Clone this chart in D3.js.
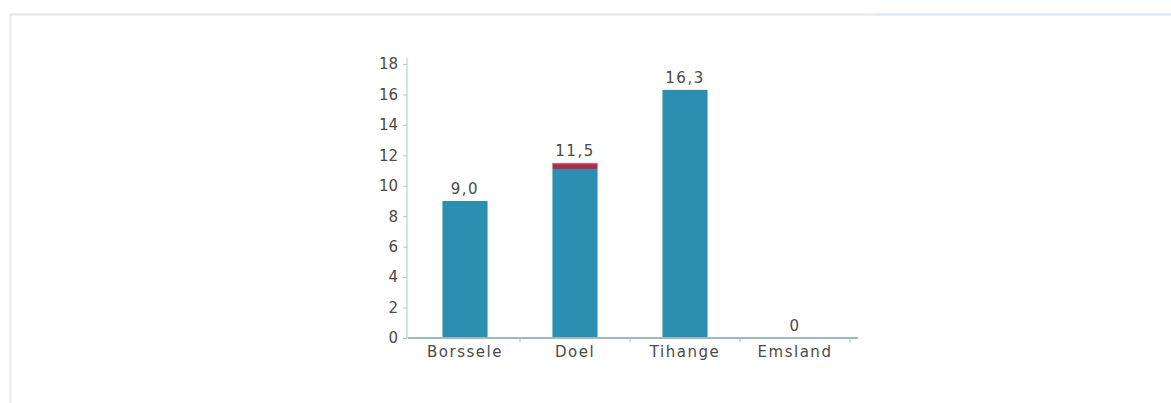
<!DOCTYPE html>
<html><head><meta charset="utf-8">
<script src="https://cdn.jsdelivr.net/npm/d3@7"></script>
<style>
html,body{margin:0;padding:0;background:#fff;}
svg{display:block;}
text{font-family:"DejaVu Sans","Lato",sans-serif;}
</style></head>
<body>
<script>
const categories = ["Borssele", "Doel", "Tihange", "Emsland"];
const mainValues = [9.0, 11.1, 16.3, 0];
const extraValues = [0, 0.4, 0, 0];
const totalLabels = ["9,0", "11,5", "16,3", "0"];
const yTicks = [0, 2, 4, 6, 8, 10, 12, 14, 16, 18];

const W = 1171, H = 403;
const svg = d3.select("body").append("svg").attr("width", W).attr("height", H);

// frame
svg.append("line").attr("x1",10).attr("x2",877).attr("y1",14.5).attr("y2",14.5).attr("stroke","#e4e6e8").attr("stroke-width",2);
svg.append("line").attr("x1",877).attr("x2",W).attr("y1",14.5).attr("y2",14.5).attr("stroke","#d6e6f4").attr("stroke-width",2);
svg.append("line").attr("x1",10.5).attr("x2",10.5).attr("y1",14).attr("y2",H).attr("stroke","#e6eaee").attr("stroke-width",2);

const x = d3.scaleBand().domain(categories).range([410, 850]).paddingInner(0.59).paddingOuter(0.295);
const y = d3.scaleLinear().domain([0, 18]).range([338, 64]);

// y axis
const yAxis = svg.append("g").attr("transform","translate(407,0)")
  .call(d3.axisLeft(y).tickValues(yTicks).tickSize(4).tickPadding(5).tickFormat(d3.format("d")));
yAxis.attr("font-size",15).attr("font-family","DejaVu Sans");
yAxis.select(".domain").attr("stroke","#c9d8da").attr("stroke-width",1.5).attr("d","M0,"+y(18.4)+"V"+y(0));
yAxis.selectAll(".tick line").attr("stroke","#b9c6c8");
yAxis.selectAll(".tick text").attr("fill","#4a4a4a");

// bars
const bars = categories.map((c,i)=>({c, v:mainValues[i], e:extraValues[i], label: totalLabels[i]}));
svg.selectAll("rect.main").data(bars).enter().append("rect").attr("class","main")
  .attr("x", d=>x(d.c)).attr("width", x.bandwidth())
  .attr("y", d=>y(d.v)).attr("height", d=>y(0)-y(d.v))
  .attr("fill","#2b8fb2");
svg.selectAll("rect.extra").data(bars.filter(d=>d.e>0)).enter().append("rect").attr("class","extra")
  .attr("x", d=>x(d.c)).attr("width", x.bandwidth())
  .attr("y", d=>y(d.v+d.e)).attr("height", d=>y(d.v)-y(d.v+d.e))
  .attr("fill","#a8304f");
svg.selectAll("rect.extraTop").data(bars.filter(d=>d.e>0)).enter().append("rect").attr("class","extraTop")
  .attr("x", d=>x(d.c)).attr("width", x.bandwidth())
  .attr("y", d=>y(d.v+d.e)).attr("height", 1.2)
  .attr("fill","#e0607a");

// value labels
svg.selectAll("text.val").data(bars).enter().append("text").attr("class","val")
  .attr("x", d=>x(d.c)+x.bandwidth()/2).attr("y", d=>y(d.v+d.e)-7)
  .attr("text-anchor","middle").attr("font-size",15).attr("letter-spacing",1.5).attr("fill","#4a4a4a")
  .text(d=>d.label);

// x axis
const xAxis = svg.append("g").attr("transform","translate(0,338)")
  .call(d3.axisBottom(x).tickSize(0).tickPadding(8));
xAxis.attr("font-size",15).attr("font-family","DejaVu Sans");
xAxis.select(".domain").attr("stroke","#9fb9be").attr("stroke-width",2).attr("d","M408,0H858");
xAxis.selectAll(".tick text").attr("fill","#4a4a4a").attr("letter-spacing",1.5);
// boundary ticks
const bounds = categories.map(c=>x(c)+x.bandwidth()+x.step()*x.paddingInner()/2);
svg.selectAll("line.bt").data(bounds).enter().append("line").attr("class","bt")
  .attr("x1",d=>d).attr("x2",d=>d).attr("y1",338).attr("y2",342)
  .attr("stroke","#9fb9be").attr("stroke-width",1);
</script>
</body></html>
